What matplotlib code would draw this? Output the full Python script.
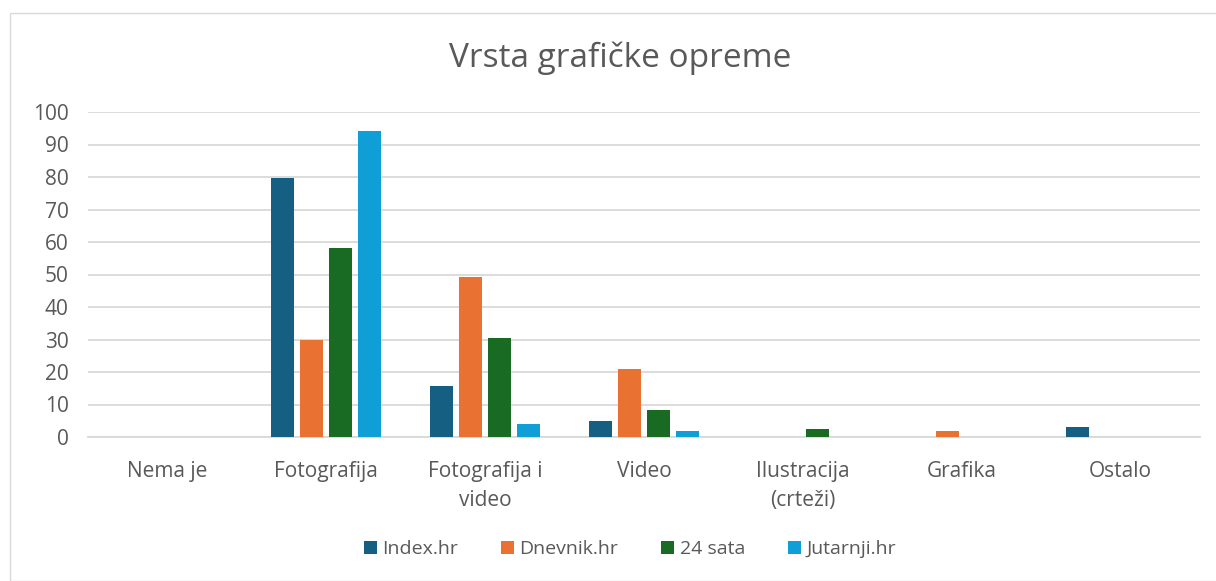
import matplotlib.pyplot as plt
import numpy as np
from matplotlib.patches import Rectangle

plt.rcParams['font.family'] = ['Open Sans', 'DejaVu Sans']

# Kategorije i vrijednosti (%)
kategorije = ["Nema je", "Fotografija", "Fotografija i\nvideo", "Video",
              "Ilustracija\n(crteži)", "Grafika", "Ostalo"]
serije = ["Index.hr", "Dnevnik.hr", "24 sata", "Jutarnji.hr"]
index_hr = [0, 79.8, 15.6, 4.8, 0, 0, 3.0]
dnevnik_hr = [0, 29.7, 49.1, 20.9, 0, 1.7, 0]
sata_24 = [0, 58.3, 30.4, 8.2, 2.5, 0, 0]
jutarnji_hr = [0, 94.1, 3.9, 1.8, 0, 0, 0]
boje = ["#156082", "#e97132", "#196b24", "#0f9ed5"]

tekst = "#595959"

fig = plt.figure(figsize=(12.16, 5.81), dpi=100)
ax = fig.add_axes([88 / 1216, 1 - 437 / 581, 1112 / 1216, 325 / 581])

x = np.arange(len(kategorije))
korak = 0.1825
sirina = 0.145
for i, (vrijednosti, ime) in enumerate(zip([index_hr, dnevnik_hr, sata_24, jutarnji_hr], serije)):
    ax.bar(x + (i - 1.5) * korak, vrijednosti, width=sirina, color=boje[i], label=ime, zorder=3)

ax.set_xlim(-0.5, len(kategorije) - 0.5)
ax.set_ylim(0, 100)
ax.set_yticks(range(0, 101, 10))
ax.set_xticks(x)
ax.set_xticklabels(kategorije, linespacing=1.5)
ax.tick_params(axis='both', length=0, colors=tekst, labelsize=15)
ax.tick_params(axis='x', pad=17)
ax.tick_params(axis='y', pad=14)
ax.grid(axis='y', color="#d9d9d9", linewidth=1.3, zorder=0)
for s in ['top', 'right', 'left']:
    ax.spines[s].set_visible(False)
ax.spines['bottom'].set_color("#d9d9d9")
ax.spines['bottom'].set_linewidth(1.3)

fig.text(620 / 1216, 1 - 58 / 581, "Vrsta grafičke opreme", ha='center', va='center',
         fontsize=24, color=tekst)

fig.legend(loc='center', bbox_to_anchor=(630 / 1216, 1 - 549 / 581), ncol=4, frameon=False,
           fontsize=14, labelcolor=tekst, handlelength=0.65, handleheight=0.65,
           handletextpad=0.3, columnspacing=2.2)

fig.patches.append(Rectangle((10 / 1216, 0), 1, 1 - 13 / 581, transform=fig.transFigure,
                             fill=False, edgecolor="#d9d9d9", linewidth=1))

fig.savefig("out.png", dpi=100)
